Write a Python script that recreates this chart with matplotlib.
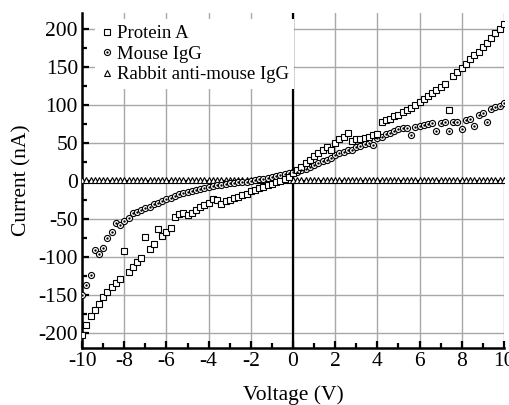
import numpy as np
import matplotlib
matplotlib.use("Agg")
import matplotlib.pyplot as plt
from matplotlib.ticker import MultipleLocator

plt.rcParams['font.family'] = ['Liberation Serif', 'DejaVu Serif']
plt.rcParams['axes.unicode_minus'] = False

# voltage sweep, -10 .. 10 V
voltage = np.arange(-10, 10.001, 0.2)

protein_a = [
    -203, -190, -178, -170, -162, -153, -147, -140, -135, -129,
    -92, -120, -114, -107, -101, -74, -90, -83, -63, -73,
    -67, -62, -48, -44, -42, -45, -43, -39, -35, -32,
    -29, -24, -25, -31, -27, -25, -23, -21, -19, -17,
    -14, -12, -10, -8, -6, -4, -2, 0, 2, 5,
    10, 14, 18, 23, 28, 33, 36, 40, 44, 41,
    50, 55, 58, 63, 53, 55, 55, 57, 58, 60,
    62, 78, 80, 82, 85, 87, 90, 93, 96, 100,
    104, 108, 112, 116, 120, 124, 127, 93, 138, 143,
    149, 154, 160, 165, 170, 176, 182, 188, 194, 200,
    206,
]

mouse_igg = [
    -150, -137, -124, -91, -97, -89, -75, -68, -56, -58,
    -53, -49, -43, -41, -38, -36, -34, -31, -29, -27,
    -24, -22, -20, -18, -16, -15, -13, -12, -11, -9,
    -8, -7, -6, -5, -4, -3.5, -3, -2, -1.5, -1,
    0, 1, 2, 3, 4, 5, 6.5, 8, 9, 10,
    11, 12, 14, 16, 18, 21, 24, 26, 28, 30,
    34, 36, 38, 41, 40, 44, 46, 48, 50, 47,
    56, 58, 61, 63, 66, 68, 69, 70, 60, 71,
    72, 73, 75, 76, 65, 76, 77, 65, 77, 78,
    68, 80, 82, 72, 87, 89, 77, 94, 97, 99,
    102,
]

rabbit_anti_mouse = [
    1.5, 1.2, 1.6, 1.4, 1.5, 1.3, 1.6, 1.5, 1.4, 1.5,
    1.6, 1.4, 1.5, 1.3, 1.5, 1.6, 1.4, 1.5, 1.5, 1.4,
    1.6, 1.5, 1.4, 1.5, 1.3, 1.5, 1.6, 1.4, 1.5, 1.5,
    1.4, 1.6, 1.5, 1.4, 1.5, 1.3, 1.5, 1.6, 1.4, 1.5,
    1.5, 1.4, 1.6, 1.5, 1.4, 1.5, 1.3, 1.5, 1.6, 1.4,
    1.5, 1.5, 1.4, 1.6, 1.5, 1.4, 1.5, 1.3, 1.5, 1.6,
    1.4, 1.5, 1.5, 1.4, 1.6, 1.5, 1.4, 1.5, 1.3, 1.5,
    1.6, 1.4, 1.5, 1.5, 1.4, 1.6, 1.5, 1.4, 1.5, 1.3,
    1.5, 1.6, 1.4, 1.5, 1.5, 1.4, 1.6, 1.5, 1.4, 1.5,
    1.3, 1.5, 1.6, 1.4, 1.5, 1.5, 1.4, 1.6, 1.5, 1.4,
    1.5,
]

labels = ["Protein A", "Mouse IgG", "Rabbit anti-mouse IgG"]

fig = plt.figure(figsize=(5.1, 4.05), dpi=100)
ax = fig.add_axes([0.161, 0.141, 0.827, 0.827])

ax.axhline(0, color="black", lw=1.6, zorder=2)
ax.axvline(0, color="black", lw=1.6, zorder=2)

mk = dict(linestyle="none", markerfacecolor="white", markeredgecolor="black",
          markeredgewidth=0.8, zorder=3)
h_tri, = ax.plot(voltage, rabbit_anti_mouse, marker="^", markersize=4.2, **mk)
h_circ, = ax.plot(voltage, mouse_igg, marker="o", markersize=4.4, **mk)
h_dot, = ax.plot(voltage, mouse_igg, linestyle="none", marker="o",
                 markersize=0.7, color="black", zorder=4)
h_sq, = ax.plot(voltage, protein_a, marker="s", markersize=4.2, **mk)

ax.set_xlim(-10, 10)
ax.set_ylim(-220, 221)
ax.xaxis.set_major_locator(MultipleLocator(2))
ax.xaxis.set_minor_locator(MultipleLocator(1))
ax.yaxis.set_major_locator(MultipleLocator(50))
ax.yaxis.set_minor_locator(MultipleLocator(25))
ax.tick_params(which="both", direction="in", labelsize=15.5, width=1.6,
               top=False, right=False)
ax.tick_params(which="major", length=5)
ax.tick_params(which="minor", length=3.5)
ax.tick_params(axis="x", pad=3)
ax.tick_params(axis="y", pad=3)

ax.grid(True, which="major", color="#a8a8a8", lw=1.0, zorder=0)
ax.set_axisbelow(True)

for side in ("top", "right"):
    ax.spines[side].set_visible(False)
for side in ("left", "bottom"):
    ax.spines[side].set_linewidth(1.8)

ax.set_xlabel("Voltage (V)", fontsize=15.5, labelpad=10)
ax.set_ylabel("Current (nA)", fontsize=15.5, labelpad=5)

leg = ax.legend([h_sq, (h_circ, h_dot), h_tri], labels, loc="upper left",
                bbox_to_anchor=(0.035, 0.975), frameon=True, fontsize=13.5,
                handlelength=0.7, handletextpad=0.15, labelspacing=0.18,
                borderpad=0.2, borderaxespad=0.0)
leg.get_frame().set_edgecolor("none")
leg.get_frame().set_facecolor("white")
leg.get_frame().set_alpha(1.0)
leg.get_frame().set_boxstyle("square", pad=0.1)

fig.savefig("out.png", dpi=100)
